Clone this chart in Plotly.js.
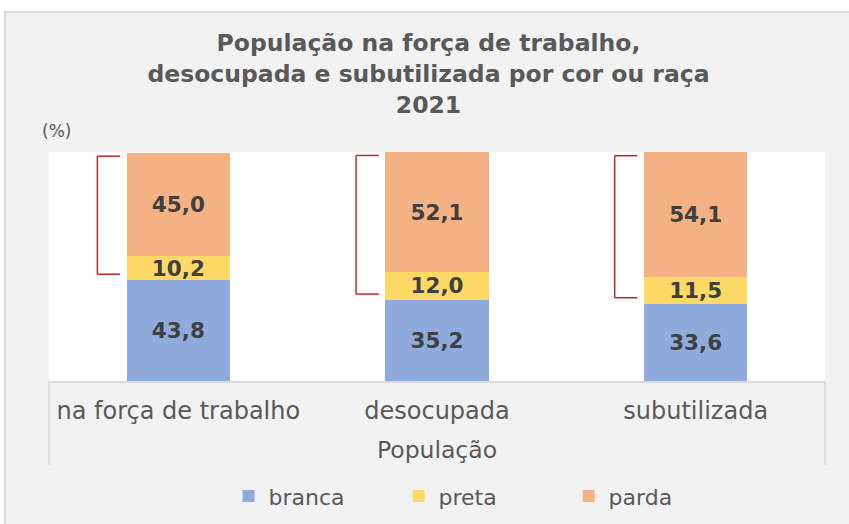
<!DOCTYPE html>
<html>
<head>
<meta charset="utf-8">
<script src="https://cdn.plot.ly/plotly-3.0.1.min.js"></script>
<style>
  html, body { margin: 0; padding: 0; background: #ffffff; width: 849px; height: 524px; overflow: hidden; }
  #frame { position: absolute; left: 4px; top: 11px; width: 845px; height: 513px; background: #f2f2f2; border-left: 2px solid #d9d9d9; border-top: 2px solid #d9d9d9; }
  #chart { position: absolute; left: 0; top: 0; width: 845px; height: 513px; }
</style>
</head>
<body>
<div id="frame"><div id="chart"></div></div>
<script>
// ---- data ----
const categories = ["na força de trabalho", "desocupada", "subutilizada"];
const branca = [43.8, 35.2, 33.6];
const preta  = [10.2, 12.0, 11.5];
const parda  = [45.0, 52.1, 54.1];
const seriesNames = ["branca", "preta", "parda"];

const colors = ["#8faadc", "#ffd966", "#f4b183"];
const seriesValues = [branca, preta, parda];
const FONT = "DejaVu Sans";
const GREY = "#595959";

const traces = seriesValues.map((vals, k) => ({
  type: "bar",
  name: seriesNames[k],
  x: categories,
  y: vals,
  width: 0.4,
  marker: { color: colors[k], line: { width: 0 } },
  texttemplate: "%{y:.1f}",
  textposition: "inside",
  insidetextanchor: "middle",
  textangle: 0,
  constraintext: "none",
  textfont: { family: FONT, size: 21.5, color: "#404040", weight: "bold" },
  hoverinfo: "skip"
}));

// red brackets marking preta + parda
const shapes = [];
const bracketColor = "#c0282d";
categories.forEach((c, i) => {
  const total = branca[i] + preta[i] + parda[i];
  const yb = branca[i] + 2.5;
  const yt = total - 1.5;
  const xv = i - 0.313, xh = i - 0.225;
  shapes.push({ type: "line", xref: "x", yref: "y", x0: xv, x1: xv, y0: yb, y1: yt, line: { color: bracketColor, width: 1.5 } });
  shapes.push({ type: "line", xref: "x", yref: "y", x0: xv, x1: xh, y0: yt, y1: yt, line: { color: bracketColor, width: 1.5 } });
  shapes.push({ type: "line", xref: "x", yref: "y", x0: xv, x1: xh, y0: yb, y1: yb, line: { color: bracketColor, width: 1.5 } });
});
// category label box side lines
shapes.push({ type: "line", xref: "paper", yref: "paper", x0: 0, x1: 0, y0: 0, y1: -0.367, line: { color: "#d9d9d9", width: 1.5 } });
shapes.push({ type: "line", xref: "paper", yref: "paper", x0: 1, x1: 1, y0: 0, y1: -0.367, line: { color: "#d9d9d9", width: 1.5 } });

const layout = {
  width: 845, height: 513,
  margin: { l: 43, r: 26, t: 139, b: 145, pad: 0 },
  paper_bgcolor: "#f2f2f2",
  plot_bgcolor: "#ffffff",
  barmode: "stack",
  separators: ",.",
  showlegend: true,
  title: {
    text: "<b>População na força de trabalho,<br>desocupada e subutilizada por cor ou raça<br>2021</b>",
    font: { family: FONT, size: 23.5, color: GREY },
    x: 0.5, xref: "container", xanchor: "center",
    y: 0.925, yref: "container", yanchor: "top"
  },
  xaxis: {
    type: "category",
    automargin: false,
    showline: true, linecolor: "#d9d9d9", linewidth: 1.5,
    showgrid: false, zeroline: false, ticks: "",
    tickfont: { family: FONT, size: 24, color: GREY },
    ticklabelstandoff: 8,
    title: { text: "População", font: { family: FONT, size: 23.5, color: GREY }, standoff: 17 },
    fixedrange: true
  },
  yaxis: {
    range: [0, 99.3],
    automargin: false,
    showticklabels: false, showgrid: false, zeroline: false, showline: false, ticks: "",
    fixedrange: true
  },
  legend: {
    orientation: "h",
    traceorder: "normal",
    x: 0.56, xanchor: "center", xref: "paper",
    y: 0.058, yanchor: "middle", yref: "container",
    font: { family: FONT, size: 22, color: GREY },
    entrywidth: 125, entrywidthmode: "pixels",
    bgcolor: "rgba(0,0,0,0)"
  },
  annotations: [{
    text: "(%)", xref: "paper", yref: "paper",
    x: -0.0116, y: 1.092, xanchor: "left", yanchor: "middle", showarrow: false,
    font: { family: FONT, size: 17, color: GREY }
  }],
  shapes: shapes
};

Plotly.newPlot("chart", traces, layout, { displayModeBar: false, staticPlot: true });
</script>
</body>
</html>
